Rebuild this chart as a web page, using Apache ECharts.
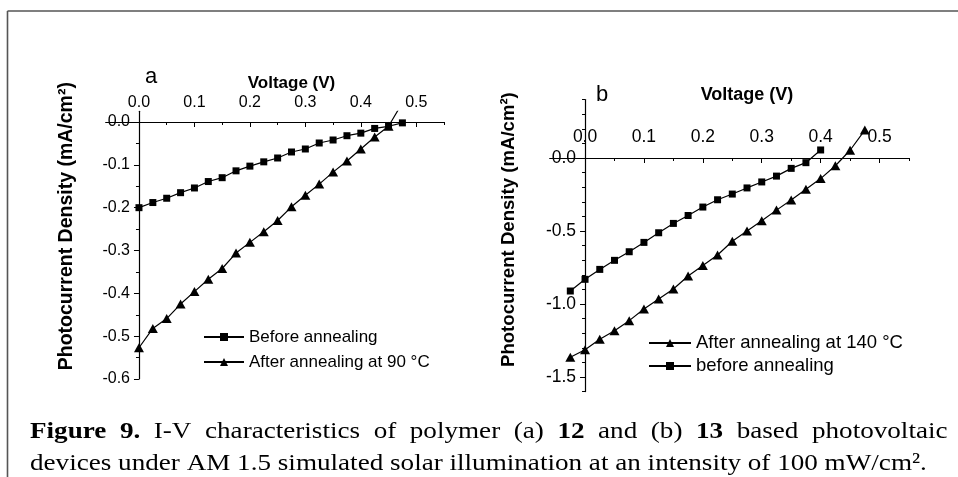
<!DOCTYPE html>
<html>
<head>
<meta charset="utf-8">
<script src="https://cdn.jsdelivr.net/npm/echarts@6/dist/echarts.min.js"></script>
<style>
html,body{margin:0;padding:0;background:#fff;}
#c{width:958px;height:477px;}
</style>
</head>
<body>
<div id="c"></div>
<script>
// ---------- data ----------
const voltageA = [0, 0.025, 0.05, 0.075, 0.1, 0.125, 0.15, 0.175, 0.2, 0.225, 0.25, 0.275, 0.3, 0.325, 0.35, 0.375, 0.4, 0.425, 0.45, 0.475];
const beforeA = [-0.200, -0.188, -0.178, -0.165, -0.154, -0.139, -0.130, -0.114, -0.103, -0.093, -0.084, -0.070, -0.063, -0.049, -0.042, -0.032, -0.026, -0.015, -0.010, -0.002];
const afterA = [-0.527, -0.482, -0.459, -0.425, -0.396, -0.367, -0.342, -0.306, -0.281, -0.256, -0.230, -0.198, -0.171, -0.145, -0.117, -0.091, -0.063, -0.035, -0.010, 0.045];

const voltageB = [-0.025, 0, 0.025, 0.05, 0.075, 0.1, 0.125, 0.15, 0.175, 0.2, 0.225, 0.25, 0.275, 0.3, 0.325, 0.35, 0.375, 0.4, 0.425, 0.45, 0.475];
const afterB = [-1.365, -1.313, -1.242, -1.183, -1.114, -1.034, -0.966, -0.897, -0.808, -0.737, -0.664, -0.570, -0.500, -0.430, -0.357, -0.288, -0.214, -0.141, -0.053, 0.053, 0.191];
const beforeB = [-0.911, -0.831, -0.763, -0.701, -0.642, -0.578, -0.512, -0.448, -0.394, -0.336, -0.286, -0.247, -0.205, -0.164, -0.124, -0.071, -0.032, 0.055];

const xMajorTicks = [0, 0.1, 0.2, 0.3, 0.4, 0.5];
const xMinorTicks = [0.05, 0.15, 0.25, 0.35, 0.45, 0.55];
const yMajorTicksA = [-0.6, -0.5, -0.4, -0.3, -0.2, -0.1, 0];
const yMinorTicksA = [-0.55, -0.45, -0.35, -0.25, -0.15, -0.05];
const yMajorTicksB = [-1.5, -1.0, -0.5, 0];
const yMinorTicksB = [-1.6, -1.4, -1.3, -1.2, -1.1, -0.9, -0.8, -0.7, -0.6, -0.4, -0.3, -0.2, -0.1, 0.1, 0.2, 0.3, 0.4];

const namesA = ['Before annealing', 'After annealing at 90 °C'];
const namesB = ['After annealing at 140 °C', 'before annealing'];

// ---------- layout ----------
const SANS = '"Liberation Sans", Arial, sans-serif';
const SERIF = '"Liberation Serif", "Times New Roman", serif';
const gridA = { left: 105.7, top: 111.3, width: 338.3, height: 267.7 };
const gridB = { left: 549.7, top: 99.6, width: 359.3, height: 292 };
const xRange = [-0.06, 0.55];
const yRangeA = [-0.6, 0.025];
const yRangeB = [-1.6, 0.4];
// axes cross at (0, 0): move each axis inward from its grid edge by the scale position of 0
const xAxisOffset = (g, r) => -g.height * (r[1] - 0) / (r[1] - r[0]);
const yAxisOffset = (g, r) => -g.width * (0 - r[0]) / (r[1] - r[0]);
// x-axis names are centred over the positive part of the axis (padding of 2*s shifts by s)
const nameShift = g => g.width * (0 - xRange[0]) / (xRange[1] - xRange[0]);

const pairs = (xs, ys) => ys.map((y, i) => [xs[i], y]);
const fmt = v => v.toFixed(1);

function xAxes(grid, off, o) {
  return [
    {
      gridIndex: grid, type: 'value', position: 'top', offset: off, min: xRange[0], max: xRange[1],
      name: 'Voltage (V)', nameLocation: 'middle', nameGap: o.nameGap, nameMoveOverlap: false,
      nameTextStyle: { fontSize: o.nameSize, fontWeight: 'bold', color: '#000', fontFamily: SANS, padding: [0, 0, 0, o.nameShift] },
      axisLine: { onZero: false, lineStyle: { color: '#000', width: 1.2 } },
      axisTick: { inside: true, length: 5, customValues: xMajorTicks, lineStyle: { color: '#000', width: 1 } },
      axisLabel: { customValues: xMajorTicks, formatter: fmt, fontSize: o.labelSize, margin: o.labelMargin, color: '#000', fontFamily: SANS },
      splitLine: { show: false }
    },
    {
      gridIndex: grid, type: 'value', position: 'top', offset: off, min: xRange[0], max: xRange[1],
      axisLine: { show: false, onZero: false },
      axisTick: { inside: true, length: 3, customValues: xMinorTicks, lineStyle: { color: '#000', width: 1 } },
      axisLabel: { show: false },
      splitLine: { show: false }
    }
  ];
}

function yAxes(grid, off, range, major, minor, o) {
  return [
    {
      gridIndex: grid, type: 'value', position: 'left', offset: off, min: range[0], max: range[1],
      name: 'Photocurrent Density (mA/cm²)', nameLocation: 'middle', nameGap: o.nameGap, nameRotate: 90, nameMoveOverlap: false,
      nameTextStyle: { fontSize: o.nameSize, fontWeight: 'bold', color: '#000', fontFamily: SANS, padding: [0, 0, 0, o.shift] },
      axisLine: { show: true, onZero: false, lineStyle: { color: '#000', width: 1.2 } },
      axisTick: { show: true, inside: false, length: 5, customValues: major, lineStyle: { color: '#000', width: 1 } },
      axisLabel: { customValues: major, formatter: fmt, fontSize: o.labelSize, margin: 9, color: '#000', fontFamily: SANS },
      splitLine: { show: false }
    },
    {
      gridIndex: grid, type: 'value', position: 'left', offset: off, min: range[0], max: range[1],
      axisLine: { show: false, onZero: false },
      axisTick: { show: true, inside: false, length: 3, customValues: minor, lineStyle: { color: '#000', width: 1 } },
      axisLabel: { show: false },
      splitLine: { show: false }
    }
  ];
}

function lineSeries(name, xi, yi, data, symbol, size) {
  return {
    name: name, type: 'line', xAxisIndex: xi, yAxisIndex: yi, data: data,
    symbol: symbol, symbolSize: size, showSymbol: true, clip: true,
    lineStyle: { color: '#000', width: 1.2 },
    itemStyle: { color: '#000' },
    emphasis: { disabled: true }
  };
}

const sp = '{s| }';
const cap1 = '{bb|Figure}' + sp + '{bb|9.}' + sp + '{r|I-V}' + sp + '{r|characteristics}' + sp + '{r|of}' + sp +
  '{r|polymer}' + sp + '{r|(a)}' + sp + '{bb|12}' + sp + '{r|and}' + sp + '{r|(b)}' + sp + '{bb|13}' + sp +
  '{r|based}' + sp + '{r|photovoltaic}';
const cap2 = 'devices under AM 1.5 simulated solar illumination at an intensity of 100 mW/cm².';
const CAP_SIZE = 24, CAP_SCALE = 1.13;

const chart = echarts.init(document.getElementById('c'), null, { renderer: 'canvas' });
const option = {
  animation: false,
  backgroundColor: '#fff',
  title: [
    { text: 'a', left: 145, top: 66, padding: 0, textStyle: { fontSize: 22, fontWeight: 'normal', color: '#000', fontFamily: SANS } },
    { text: 'b', left: 596, top: 84, padding: 0, textStyle: { fontSize: 22, fontWeight: 'normal', color: '#000', fontFamily: SANS } }
  ],
  legend: [
    {
      data: namesA, orient: 'vertical', left: 203, top: 327, padding: 0,
      itemWidth: 40, itemHeight: 10, itemGap: 5, selectedMode: false,
      textStyle: { fontSize: 17, lineHeight: 20, color: '#000', fontFamily: SANS }
    },
    {
      data: namesB, orient: 'vertical', left: 648, top: 333, padding: 0,
      itemWidth: 42, itemHeight: 10, itemGap: 3, selectedMode: false,
      textStyle: { fontSize: 18.5, lineHeight: 20, color: '#000', fontFamily: SANS }
    }
  ],
  grid: [
    Object.assign({ outerBoundsMode: 'none', containLabel: false }, gridA),
    Object.assign({ outerBoundsMode: 'none', containLabel: false }, gridB)
  ],
  xAxis: [].concat(
    xAxes(0, xAxisOffset(gridA, yRangeA), { nameGap: 30, nameSize: 17, labelSize: 16, labelMargin: 11, nameShift: nameShift(gridA) }),
    xAxes(1, xAxisOffset(gridB, yRangeB), { nameGap: 54, nameSize: 18, labelSize: 17.5, labelMargin: 12, nameShift: nameShift(gridB) })
  ),
  yAxis: [].concat(
    yAxes(0, yAxisOffset(gridA, xRange), yRangeA, yMajorTicksA, yMinorTicksA, { nameGap: 62, nameSize: 19.5, labelSize: 16, shift: 38 }),
    yAxes(1, yAxisOffset(gridB, xRange), yRangeB, yMajorTicksB, yMinorTicksB, { nameGap: 67, nameSize: 18.6, labelSize: 17.5, shift: 32 })
  ),
  series: [
    lineSeries(namesA[0], 0, 0, pairs(voltageA, beforeA), 'rect', 7),
    lineSeries(namesA[1], 0, 0, pairs(voltageA, afterA), 'triangle', [10, 9]),
    lineSeries(namesB[0], 2, 2, pairs(voltageB, afterB), 'triangle', [10, 9]),
    lineSeries(namesB[1], 2, 2, pairs(voltageB.slice(0, beforeB.length), beforeB), 'rect', 7)
  ],
  graphic: [
    { type: 'line', silent: true, shape: { x1: 7.5, y1: 11, x2: 958, y2: 11 }, style: { stroke: '#555', lineWidth: 1.6 } },
    { type: 'line', silent: true, shape: { x1: 7.5, y1: 11, x2: 7.5, y2: 477 }, style: { stroke: '#555', lineWidth: 1.6 } },
    {
      type: 'text', x: 30, y: 432, scaleX: CAP_SCALE, silent: true,
      style: {
        text: cap1, fill: '#000', verticalAlign: 'middle', align: 'left',
        fontSize: CAP_SIZE, fontFamily: SERIF,
        rich: {
          bb: { fontSize: CAP_SIZE, fontFamily: SERIF, fontWeight: 'bold', fill: '#000' },
          r: { fontSize: CAP_SIZE, fontFamily: SERIF, fill: '#000' },
          s: { fontSize: CAP_SIZE, fontFamily: SERIF, width: 12 }
        }
      }
    },
    {
      type: 'text', x: 30, y: 464, scaleX: CAP_SCALE, silent: true,
      style: { text: cap2, fill: '#000', verticalAlign: 'middle', align: 'left', fontSize: CAP_SIZE, fontFamily: SERIF }
    }
  ]
};
chart.setOption(option);
</script>
</body>
</html>
